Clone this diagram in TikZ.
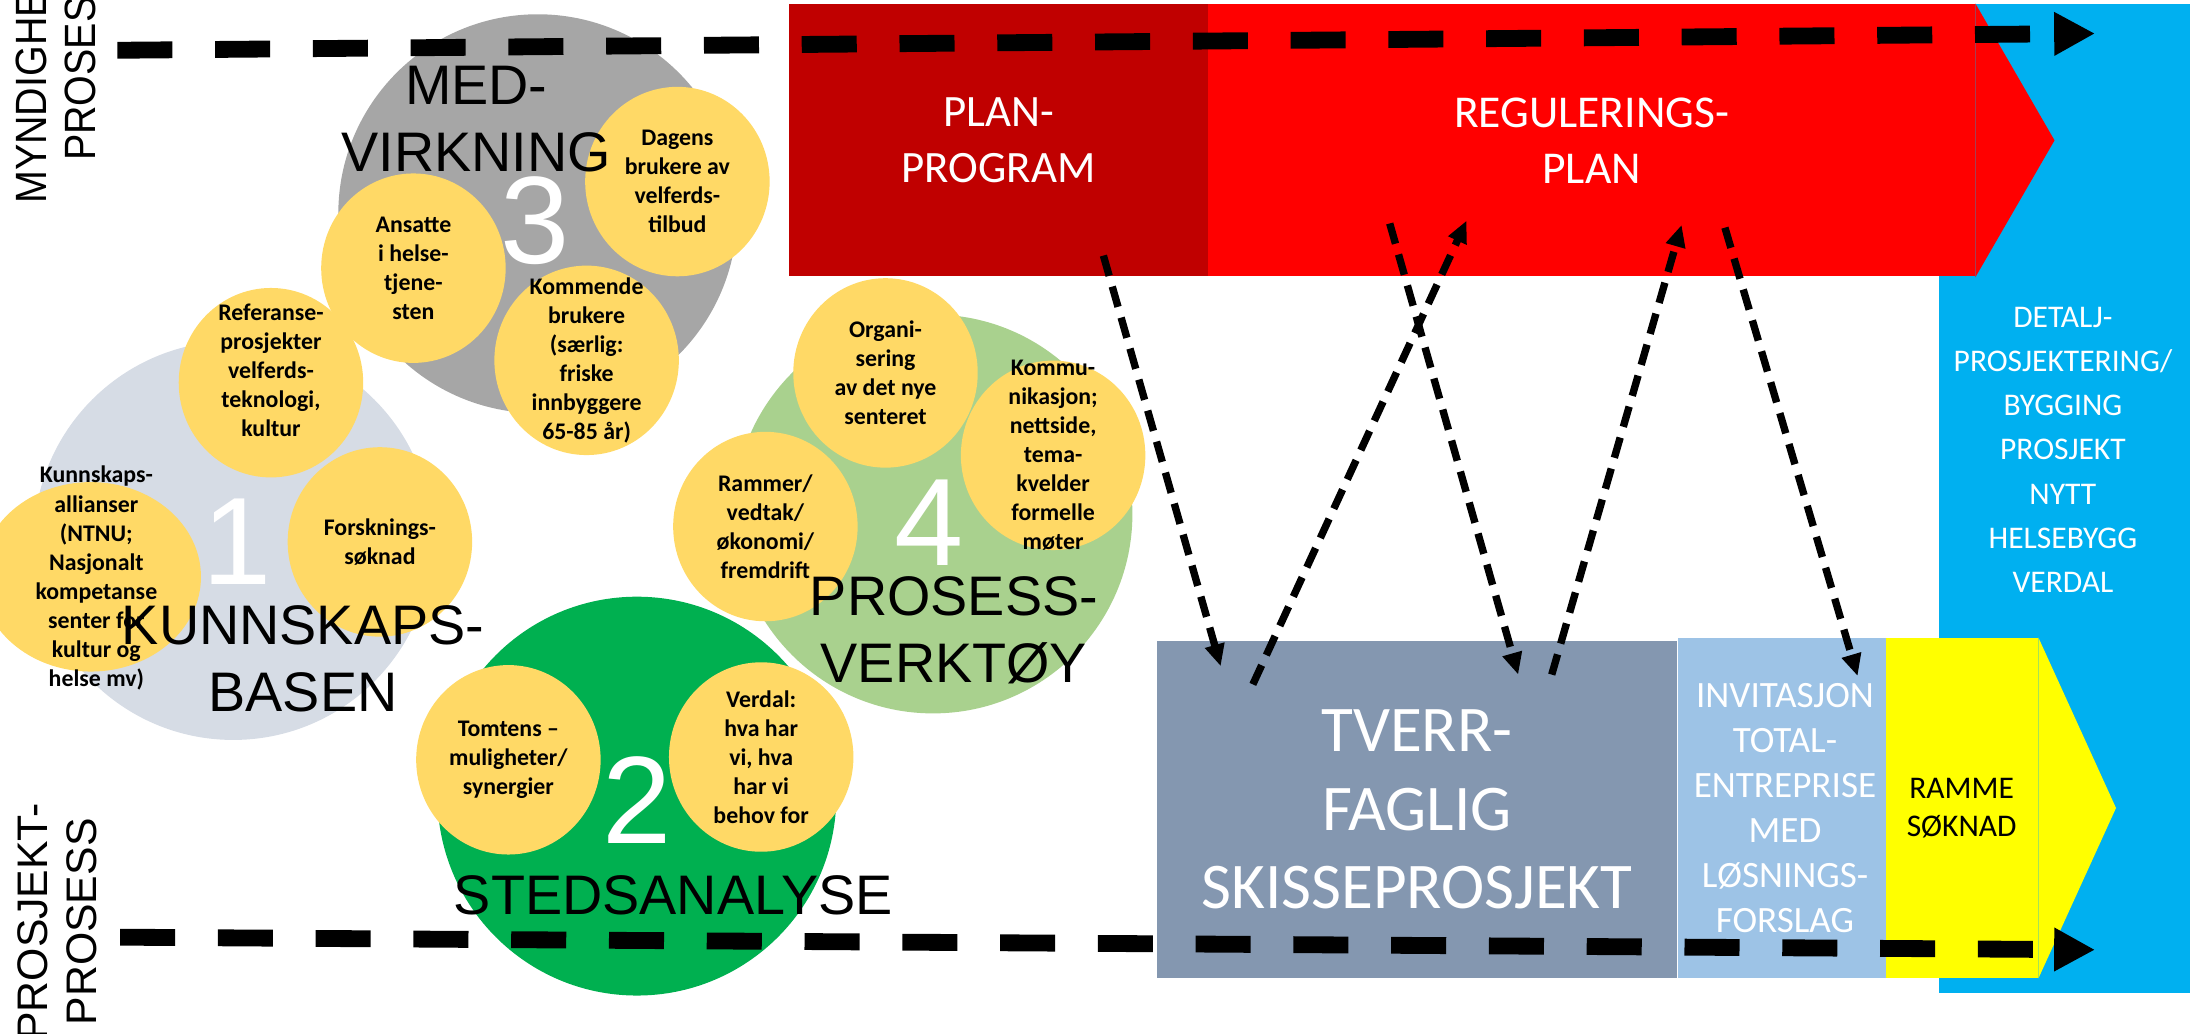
\documentclass[tikz,border=0pt]{standalone}
\usepackage{fontspec}
\setmainfont{Carlito}
\newfontfamily\arialfont{Liberation Sans}
\newfontfamily\arialnarrow[FakeStretch=0.9]{Liberation Sans}
\usetikzlibrary{shapes.geometric,arrows.meta}

\definecolor{kunnskap}{HTML}{D6DCE5}
\definecolor{medvirk}{HTML}{A6A6A6}
\definecolor{prosess}{HTML}{A9D18E}
\definecolor{sted}{HTML}{00B050}
\definecolor{bubble}{HTML}{FFD966}
\definecolor{planred}{HTML}{C00000}
\definecolor{regred}{HTML}{FF0000}
\definecolor{detaljblue}{HTML}{00B0F0}
\definecolor{skisse}{HTML}{8497B0}
\definecolor{invit}{HTML}{9DC3E6}
\definecolor{ramme}{HTML}{FFFF00}

\tikzset{
  stage/.style={circle, inner sep=0pt, minimum size=4cm},
  item/.style={ellipse, fill=bubble, inner sep=0pt, minimum width=1.85cm, minimum height=1.9cm},
  itemtext/.style={align=center, inner sep=0pt, font=\bfseries\fontsize{6.8}{8.3}\selectfont},
  bigtext/.style={align=center, inner sep=0pt, font=\arialfont\fontsize{15.9}{19.1}\selectfont},
  sidetext/.style={align=center, inner sep=0pt, rotate=90, font=\arialnarrow\fontsize{12.5}{14.1}\selectfont},
  digit/.style={inner sep=0pt, text=white, font=\arialfont\fontsize{35.5}{36}\selectfont},
  stagebox/.style={rectangle, inner sep=0pt, align=center, text=white},
  prosessline/.style={line width=4.8pt, dash pattern=on 15.7pt off 12.2pt, -{Triangle[length=0.41cm,width=0.41cm]}},
  feedback/.style={line width=2.1pt, dash pattern=on 6pt off 3.2pt, -{Triangle[length=0.22cm,width=0.19cm]}},
}

\begin{document}
\begin{tikzpicture}[x=0.014cm, y=-0.014cm]
\useasboundingbox (0,0) rectangle (1568,740);

% the four circles
\node[stage, fill=kunnskap] (kunnskap) at (167,387) {};
\node[stage, fill=medvirk] (medvirk) at (385,153) {};
\node[stage, fill=prosess] (prosess) at (668,368) {};
\node[stage, fill=sted] (sted) at (456,570) {};

% yellow bubbles
\node[item] (dagens) at (485,130) {};
\node[item] (ansatte) at (296,192) {};
\node[item] (kommende) at (420,258) {};
\node[item] (referanse) at (194,274) {};
\node[item, minimum width=2.21cm] (allianse) at (65,413) {};
\node[item] (forskning) at (272,388) {};
\node[item] (tomt) at (364,544) {};
\node[item] (verdal) at (545,542) {};
\node[item] (rammer) at (548,377) {};
\node[item] (organi) at (634,267) {};
\node[item] (kommu) at (754,326) {};

\node[itemtext] (dagens-t) at (dagens) {Dagens\\brukere av\\velferds-\\tilbud};
\node[itemtext] (ansatte-t) at (ansatte) {Ansatte\\i helse-\\tjene-\\sten};
\node[itemtext] (kommende-t) at (kommende) {Kommende\\brukere\\(særlig:\\friske\\innbyggere\\65-85 år)};
\node[itemtext] (referanse-t) at (194,265) {Referanse-\\prosjekter\\velferds-\\teknologi,\\kultur};
\node[itemtext] (allianse-t) at (69,414) {Kunnskaps-\\allianser\\(NTNU;\\Nasjonalt\\kompetanse\\senter for\\kultur og\\helse mv)};
\node[itemtext] (forskning-t) at (forskning) {Forsknings-\\søknad};
\node[itemtext] (tomt-t) at (tomt) {Tomtens –\\muligheter/\\synergier};
\node[itemtext] (verdal-t) at (verdal) {Verdal:\\hva har\\vi, hva\\har vi\\behov for};
\node[itemtext] (rammer-t) at (rammer) {Rammer/\\vedtak/\\økonomi/\\fremdrift};
\node[itemtext] (organi-t) at (organi) {Organi-\\sering\\av det nye\\senteret};
\node[itemtext] (kommu-t) at (kommu) {Kommu-\\nikasjon;\\nettside,\\tema-\\kvelder\\formelle\\møter};

% numbers and titles
\node[digit] (n1) at (170,388) {1};
\node[digit] (n2) at (456,573) {2};
\node[digit] (n3) at (383,158) {3};
\node[digit] (n4) at (665,374) {4};

\node[bigtext] (medvirk-t) at (341,85) {MED-\\VIRKNING};
\node[bigtext] (kunnskap-t) at (217,472) {KUNNSKAPS-\\BASEN};
\node[bigtext] (prosess-t) at (683,451) {PROSESS-\\VERKTØY};
\node[bigtext] (sted-t) at (482,641) {STEDSANALYSE};

% process boxes
\node[stagebox, fill=detaljblue, minimum width=2.52cm, minimum height=9.912cm] (detalj) at (1478,357) {};
\node[stagebox, font=\fontsize{9}{12.6}\selectfont] (detalj-t) at (1477,322) {DETALJ-\\PROSJEKTERING/\\BYGGING\\PROSJEKT\\NYTT\\HELSEBYGG\\VERDAL};
\node[stagebox, fill=regred, minimum width=7.686cm, minimum height=2.73cm, font=\fontsize{13}{16}\selectfont] (regplan) at (1139.5,100.5) {REGULERINGS-\\PLAN};
\fill[regred] (regplan.north east) -- (1471,100.5) -- (regplan.south east) -- cycle;
\node[stagebox, fill=planred, minimum width=4.2cm, minimum height=2.73cm, font=\fontsize{12.8}{16.1}\selectfont] (planprog) at (715,100.5) {PLAN-\\PROGRAM};
\node[stagebox, fill=skisse, minimum width=5.222cm, minimum height=3.374cm, font=\fontsize{18.6}{22.5}\selectfont] (skisse) at (1014.5,579.5) {TVERR-\\FAGLIG\\SKISSEPROSJEKT};
\node[stagebox, fill=invit, minimum width=2.156cm, minimum height=3.402cm, font=\fontsize{10.6}{12.8}\selectfont] (invit) at (1278,578.5) {INVITASJON\\TOTAL-\\ENTREPRISE\\MED\\LØSNINGS-\\FORSLAG};
\node[stagebox, fill=ramme, text=black, minimum width=1.526cm, minimum height=3.402cm, font=\fontsize{9}{10.7}\selectfont] (ramme) at (1404.5,578.5) {RAMME\\SØKNAD};
\fill[ramme] (ramme.north east) -- (1515,578.5) -- (ramme.south east) -- cycle;

% side labels
\node[sidetext] (myndighet) at (40,47) {MYNDIGHETS-\\PROSESS};
\node[sidetext, font=\arialfont\fontsize{12.2}{14.1}\selectfont] (prosjekt) at (41,660) {PROSJEKT-\\PROSESS};

% back and forth between plan and project
\coordinate (fb1a) at (790,183);  \coordinate (fb1b) at (874,477);
\coordinate (fb2a) at (897,490);  \coordinate (fb2b) at (1050,158);
\coordinate (fb3a) at (995,160);  \coordinate (fb3b) at (1087,483);
\coordinate (fb4a) at (1111,483); \coordinate (fb4b) at (1204,161);
\coordinate (fb5a) at (1235,163); \coordinate (fb5b) at (1330,484);
\foreach \i in {1,...,5}
  \draw[feedback] (fb\i a) -- (fb\i b);

% the two process lines
\coordinate (myn-a) at (84,36);  \coordinate (myn-b) at (1500,24);
\coordinate (pro-a) at (86,671); \coordinate (pro-b) at (1500,680);
\draw[prosessline] (myn-a) -- (myn-b);
\draw[prosessline] (pro-a) -- (pro-b);
\end{tikzpicture}
\end{document}
